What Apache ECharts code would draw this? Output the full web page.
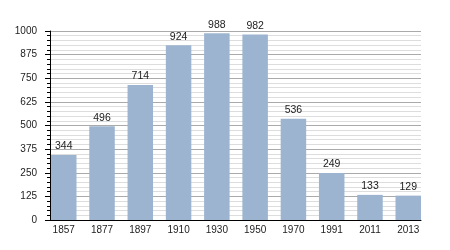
<!DOCTYPE html>
<html>
<head>
<meta charset="utf-8">
<script src="https://cdn.jsdelivr.net/npm/echarts@6/dist/echarts.min.js"></script>
<style>html,body{margin:0;padding:0;background:#fff;}#c{width:450px;height:250px;}</style>
</head>
<body>
<div id="c"></div>
<script>
var categories = ['1857','1877','1897','1910','1930','1950','1970','1991','2011','2013'];
var population = [344, 496, 714, 924, 988, 982, 536, 249, 133, 129];
var yMin = 0, yMax = 1000, yStep = 125;

var font = 'Liberation Sans, Arial, sans-serif';
var chart = echarts.init(document.getElementById('c'), null, {renderer: 'canvas'});
chart.setOption({
  animation: false,
  backgroundColor: '#ffffff',
  grid: [
    {left: 50, right: 29, top: 31, bottom: 30},
    {left: 44.6, right: 22.6, top: 31, bottom: 30}
  ],
  xAxis: [
    {gridIndex: 0, type: 'category', data: categories, z: 5,
     axisLine: {show: true, lineStyle: {color: '#000', width: 1}},
     axisTick: {show: false}, axisLabel: {show: false}, splitLine: {show: false}},
    {gridIndex: 1, type: 'category', data: categories,
     axisLine: {show: false}, axisTick: {show: false},
     axisLabel: {show: true, color: '#222', fontFamily: font, fontSize: 10, margin: 5}}
  ],
  yAxis: [
    {gridIndex: 0, type: 'value', min: yMin, max: yMax, interval: yStep,
     axisLine: {show: true, lineStyle: {color: '#000', width: 1}},
     axisTick: {show: true, inside: false, length: 5, lineStyle: {color: '#000'}},
     minorTick: {show: true, splitNumber: 5, length: 3, lineStyle: {color: '#000'}},
     axisLabel: {color: '#222', fontFamily: font, fontSize: 10, margin: 13,
                 formatter: function (v) { return String(v); }},
     splitLine: {show: true, lineStyle: {color: '#aaaaaa', width: 1}},
     minorSplitLine: {show: true, lineStyle: {color: '#dddddd', width: 1}}},
    {gridIndex: 1, type: 'value', min: yMin, max: yMax, interval: yStep, show: false,
     splitLine: {show: false}}
  ],
  series: [{
    type: 'bar', xAxisIndex: 1, yAxisIndex: 1, data: population,
    barWidth: 25.5, z: 3,
    itemStyle: {color: '#9cb4cf'},
    label: {show: true, position: 'top', distance: 3, color: '#222', fontFamily: font, fontSize: 10.5}
  }]
});
</script>
</body>
</html>
